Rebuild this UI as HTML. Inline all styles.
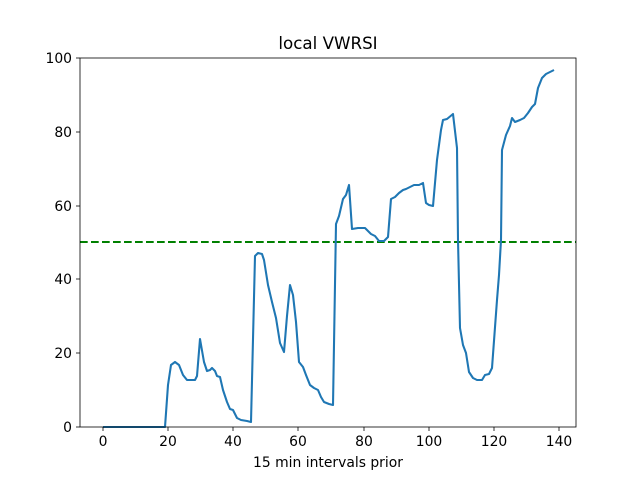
<!DOCTYPE html>
<html><head><meta charset="utf-8"><style>body{margin:0;background:#fff}svg{display:block}</style></head><body>
<svg width="640" height="480" xmlns="http://www.w3.org/2000/svg" font-family="DejaVu Sans, Liberation Sans, sans-serif" font-size="13.9">
<rect width="640" height="480" fill="#fff"/>
<text x="328" y="49" text-anchor="middle" font-size="16.7">local VWRSI</text>
<line x1="80" y1="242" x2="576" y2="242" stroke="#008000" stroke-width="2.08" stroke-dasharray="7.7,3.3"/>
<polyline fill="none" stroke="#1f77b4" stroke-width="2.08" stroke-linejoin="round" points="103,427 165,427 168,385 171,365 175,362 179,365 183,375 187,380 191,380 195,380 197,376 200,339 204,362 207,371 210,370 212,368 215,371 217,376 220,377 223,390 227,402 230,409 233,410 237,418 241,420 247,421 251,422 255,256 258,253 262,254 264,260 268,285 272,302 276,318 280,343 284,352 287,316 290,285 293,295 296,322 299,362 303,367 306,375 310,385 314,388 318,390 321,397 324,402 329,404 333,405 336,224 339,216 343,199 346,195 349,185 352,229 358,228 365,228 368,231 371,234 375,236 379,241 384,241 388,237 391,199 395,197 399,193 403,190 406,189 410,187 414,185 419,185 423,183 426,203 429,205 433,206 437,160 441,130 443,120 447,119 453,114 457,148 458,240 460,328 463,345 466,353 469,372 473,378 477,380 482,380 485,375 489,374 492,368 497,300 499,275 501,240 502,150 506,135 510,126 512,118 515,122 520,120 524,118 528,113 532,107 535,104 538,88 542,78 546,74 550,72 554,70"/>
<rect x="80" y="58" width="496" height="369" fill="none" stroke="#000" stroke-width="0.8"/>
<g stroke="#000" stroke-width="0.8">
<line x1="103" y1="427" x2="103" y2="431"/><line x1="168" y1="427" x2="168" y2="431"/><line x1="233" y1="427" x2="233" y2="431"/><line x1="298" y1="427" x2="298" y2="431"/><line x1="364" y1="427" x2="364" y2="431"/><line x1="429" y1="427" x2="429" y2="431"/><line x1="494" y1="427" x2="494" y2="431"/><line x1="559" y1="427" x2="559" y2="431"/>
<line x1="76" y1="427" x2="80" y2="427"/><line x1="76" y1="353" x2="80" y2="353"/><line x1="76" y1="279" x2="80" y2="279"/><line x1="76" y1="206" x2="80" y2="206"/><line x1="76" y1="132" x2="80" y2="132"/><line x1="76" y1="58" x2="80" y2="58"/>
</g>
<g text-anchor="middle">
<text x="103" y="446">0</text><text x="168" y="446">20</text><text x="233" y="446">40</text><text x="298" y="446">60</text><text x="364" y="446">80</text><text x="429" y="446">100</text><text x="494" y="446">120</text><text x="559" y="446">140</text>
<text x="328" y="467">15 min intervals prior</text>
</g>
<g text-anchor="end">
<text x="72" y="432">0</text><text x="72" y="358">20</text><text x="72" y="284">40</text><text x="72" y="211">60</text><text x="72" y="137">80</text><text x="72" y="63">100</text>
</g>
</svg>
</body></html>
